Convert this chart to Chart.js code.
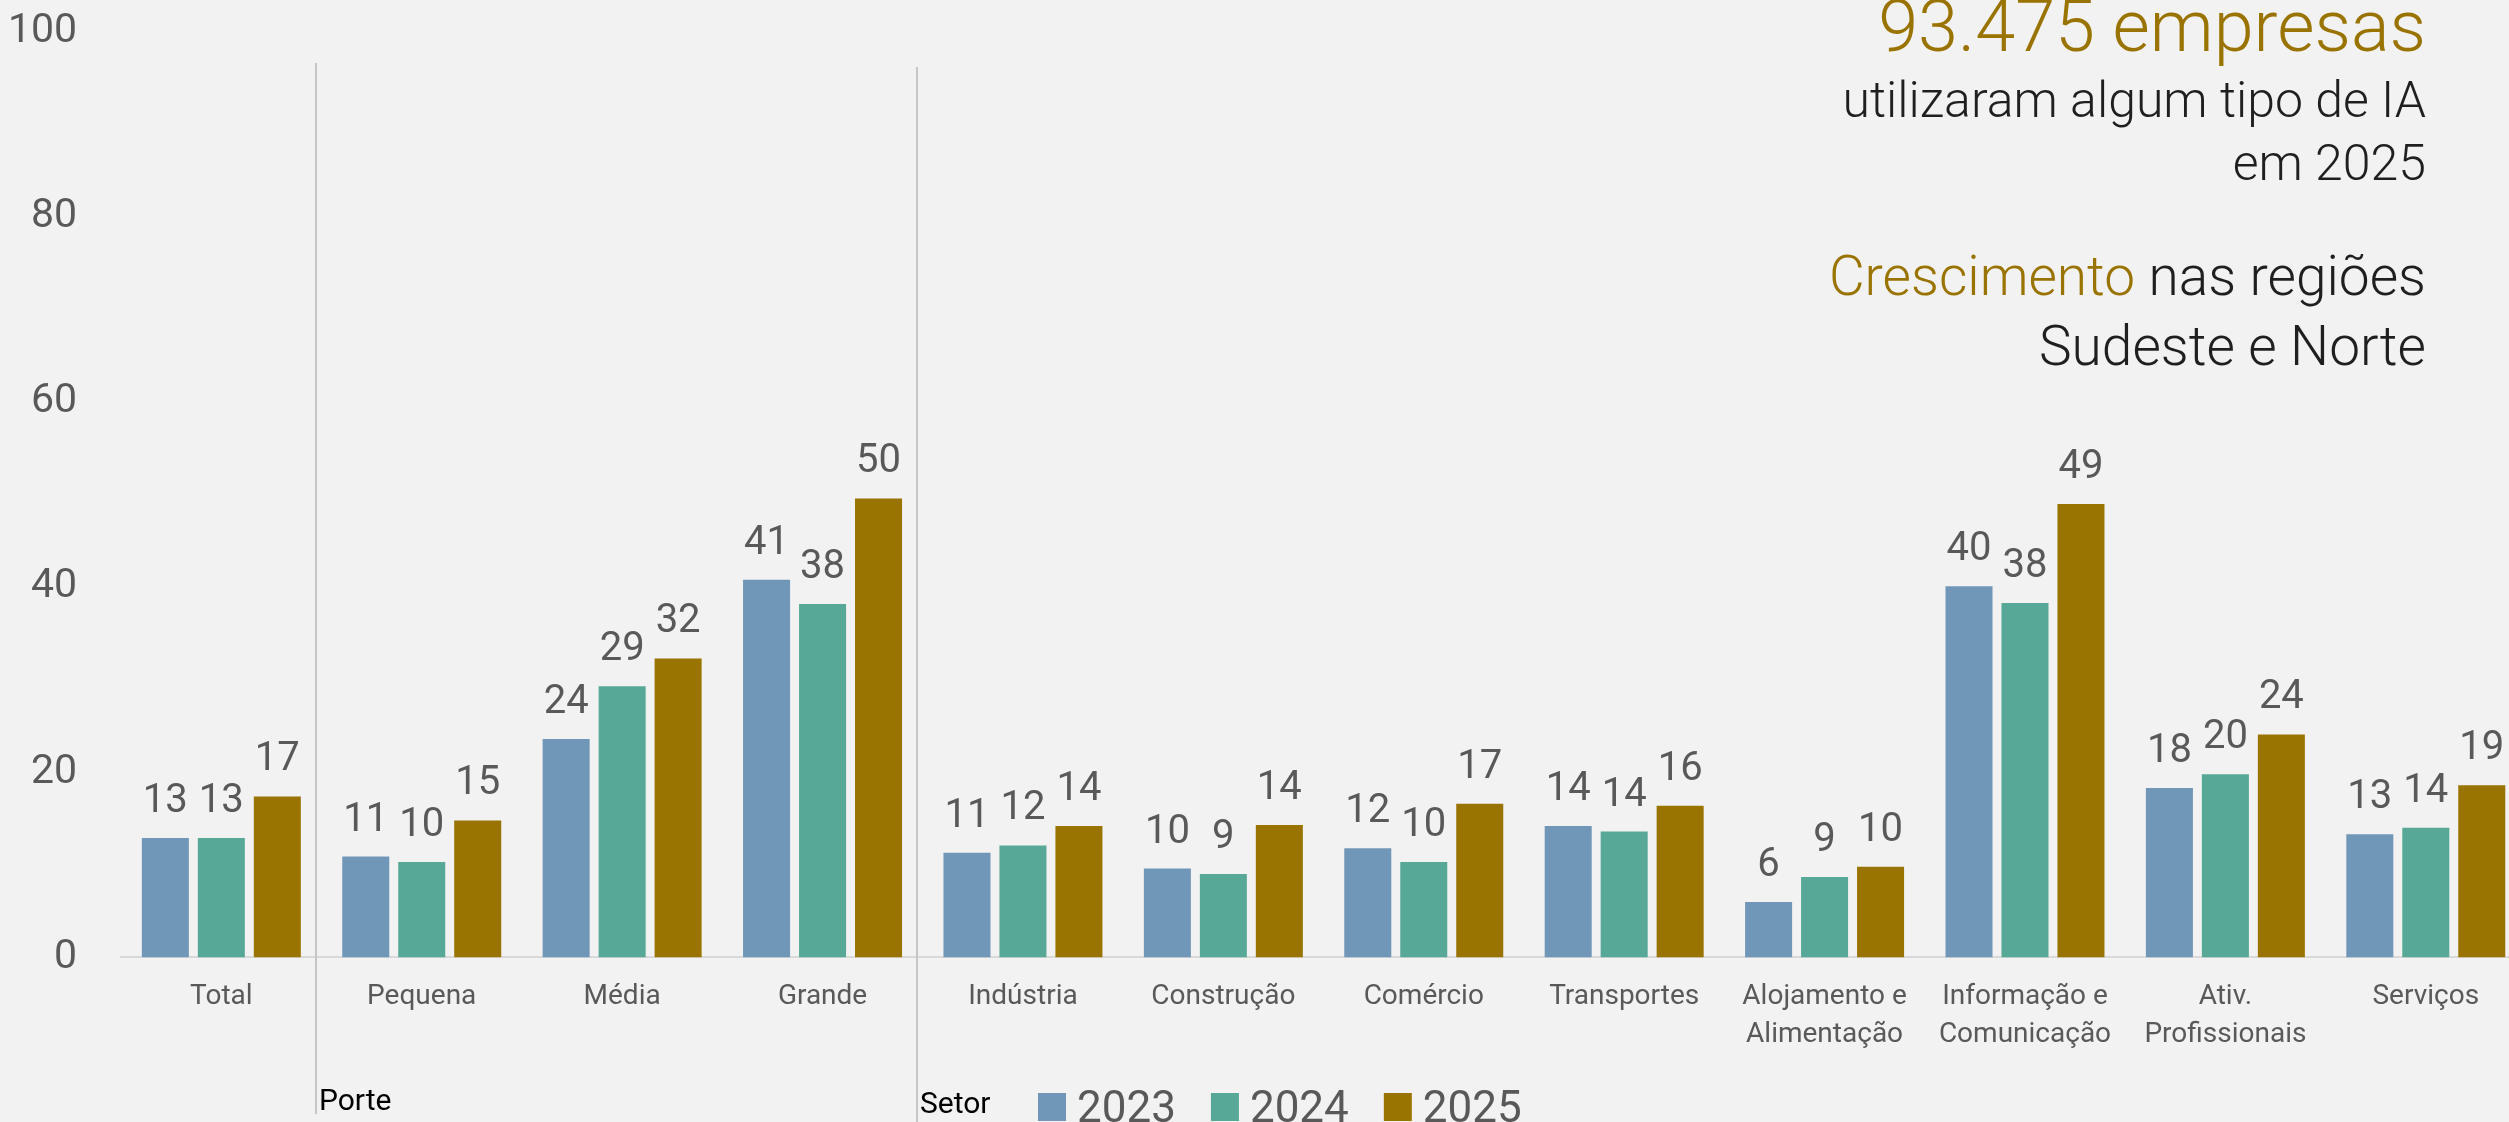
<!DOCTYPE html>
<html lang="pt-BR">
<head>
<meta charset="utf-8">
<title>Uso de IA nas empresas</title>
<script src="https://cdn.jsdelivr.net/npm/chart.js@4.4.1/dist/chart.umd.min.js"></script>
<style>
    html, body {
        margin: 0;
        padding: 0;
        background: #f2f2f2;
        overflow: hidden;
    }
    body {
        width: 2509px;
        height: 1122px;
        position: relative;
    }
    #chartBox {
        position: absolute;
        left: 0;
        top: 0;
        width: 2526px;
        height: 1122px;
    }
    .headline {
        position: absolute;
        right: 83px;
        font-family: Roboto, 'Open Sans', sans-serif;
        font-weight: 300;
        font-size: 50px;
        color: #1f1f1f;
        white-space: nowrap;
        text-align: right;
        line-height: 1;
    }
    .gold {
        color: #9a7400;
    }
</style>
</head>
<body>
<div id="chartBox"><canvas id="iaChart"></canvas></div>

<div class="headline gold" style="top:-9px;font-size:72px;">93.475 empresas</div>
<div class="headline" style="top:75px;">utilizaram algum tipo de IA</div>
<div class="headline" style="top:138px;">em 2025</div>
<div class="headline" style="top:249px;font-size:55px;"><span class="gold">Crescimento</span> nas regiões</div>
<div class="headline" style="top:319px;font-size:55px;">Sudeste e Norte</div>

<script>
// Percentual de empresas que usaram IA, por porte e setor
const categories = [
    'Total',
    'Pequena', 'Média', 'Grande',
    'Indústria', 'Construção', 'Comércio', 'Transportes',
    ['Alojamento e', 'Alimentação'],
    ['Informação e', 'Comunicação'],
    ['Ativ.', 'Profissionais'],
    'Serviços'
];

const years = ['2023', '2024', '2025'];

const values2023 = [12.9, 10.9, 23.6, 40.8, 11.3, 9.6, 11.8, 14.2, 6.0, 40.1, 18.3, 13.3];
const values2024 = [12.9, 10.3, 29.3, 38.2, 12.1, 9.0, 10.3, 13.6, 8.7, 38.3, 19.8, 14.0];
const values2025 = [17.4, 14.8, 32.3, 49.6, 14.2, 14.3, 16.6, 16.4, 9.8, 49.0, 24.1, 18.6];

const yTicks = [0, 20, 40, 60, 80, 100];

// grupos do eixo x: nome e índice da primeira categoria
const groupNames = ['Porte', 'Setor'];
const groupStarts = [1, 4];

const colors = ['#7097b8', '#57a896', '#9a7400'];
const textGrey = '#595959';
const fontFamily = 'Roboto, "Open Sans", sans-serif';

// rótulos de valor acima de cada barra
const valueLabels = {
    id: 'valueLabels',
    afterDatasetsDraw(chart) {
        const ctx = chart.ctx;
        ctx.save();
        ctx.fillStyle = textGrey;
        ctx.font = '40px ' + fontFamily;
        ctx.textAlign = 'center';
        ctx.textBaseline = 'alphabetic';
        chart.data.datasets.forEach((ds, i) => {
            chart.getDatasetMeta(i).data.forEach((bar, j) => {
                ctx.fillText(Math.round(ds.data[j]), bar.x, bar.y - 26);
            });
        });
        ctx.restore();
    }
};

// linhas separando Porte e Setor, com os nomes dos grupos
const groupDividers = {
    id: 'groupDividers',
    afterDraw(chart) {
        const ctx = chart.ctx;
        const x = chart.scales.x;
        ctx.save();
        ctx.strokeStyle = '#c6c6c6';
        ctx.lineWidth = 2;
        ctx.fillStyle = '#000';
        ctx.font = '30px ' + fontFamily;
        ctx.textAlign = 'left';
        groupStarts.forEach((start, k) => {
            const px = Math.round((x.getPixelForValue(start - 1) + x.getPixelForValue(start)) / 2) - 6;
            ctx.beginPath();
            ctx.moveTo(px, chart.chartArea.top + 31 + k * 4);
            ctx.lineTo(px, chart.height - (k === 0 ? 8 : 0));
            ctx.stroke();
            ctx.fillText(groupNames[k], px + 3, 1110 + k * 3);
        });
        ctx.restore();
    }
};

// legenda desenhada à direita de "Setor"
const bottomLegend = {
    id: 'bottomLegend',
    afterDraw(chart) {
        const ctx = chart.ctx;
        ctx.save();
        ctx.font = '44px ' + fontFamily;
        ctx.textBaseline = 'alphabetic';
        let lx = 1038;
        chart.data.datasets.forEach(ds => {
            ctx.fillStyle = ds.backgroundColor;
            ctx.fillRect(lx, 1093, 28, 28);
            ctx.fillStyle = textGrey;
            ctx.fillText(ds.label, lx + 39, 1122);
            lx += 39 + ctx.measureText(ds.label).width + 35;
        });
        ctx.restore();
    }
};

const ctx = document.getElementById('iaChart').getContext('2d');

new Chart(ctx, {
    type: 'bar',
    data: {
        labels: categories,
        datasets: [values2023, values2024, values2025].map((vals, i) => ({
            label: years[i],
            data: vals,
            backgroundColor: colors[i],
            borderWidth: 0,
            categoryPercentage: 0.838,
            barPercentage: 0.84
        }))
    },
    options: {
        responsive: true,
        maintainAspectRatio: false,
        animation: false,
        layout: {
            padding: { left: 4, top: 32, right: 0, bottom: 64 }
        },
        scales: {
            x: {
                // tickLength só reserva espaço; as marcas não são desenhadas
                grid: { display: false, drawTicks: true, tickLength: 17 },
                border: { display: true, color: '#d9d9d9', width: 2 },
                ticks: {
                    color: textGrey,
                    font: { family: fontFamily, size: 28, lineHeight: 1.35 },
                    padding: 4,
                    maxRotation: 0,
                    autoSkip: false
                }
            },
            y: {
                min: 0,
                max: 100,
                afterBuildTicks(axis) {
                    axis.ticks = yTicks.map(v => ({ value: v }));
                },
                grid: { display: false, drawTicks: true, tickLength: 40 },
                border: { display: false },
                ticks: {
                    color: textGrey,
                    font: { family: fontFamily, size: 41 },
                    padding: 4
                }
            }
        },
        plugins: {
            legend: { display: false },
            tooltip: { enabled: false }
        }
    },
    plugins: [valueLabels, groupDividers, bottomLegend]
});
</script>
</body>
</html>
